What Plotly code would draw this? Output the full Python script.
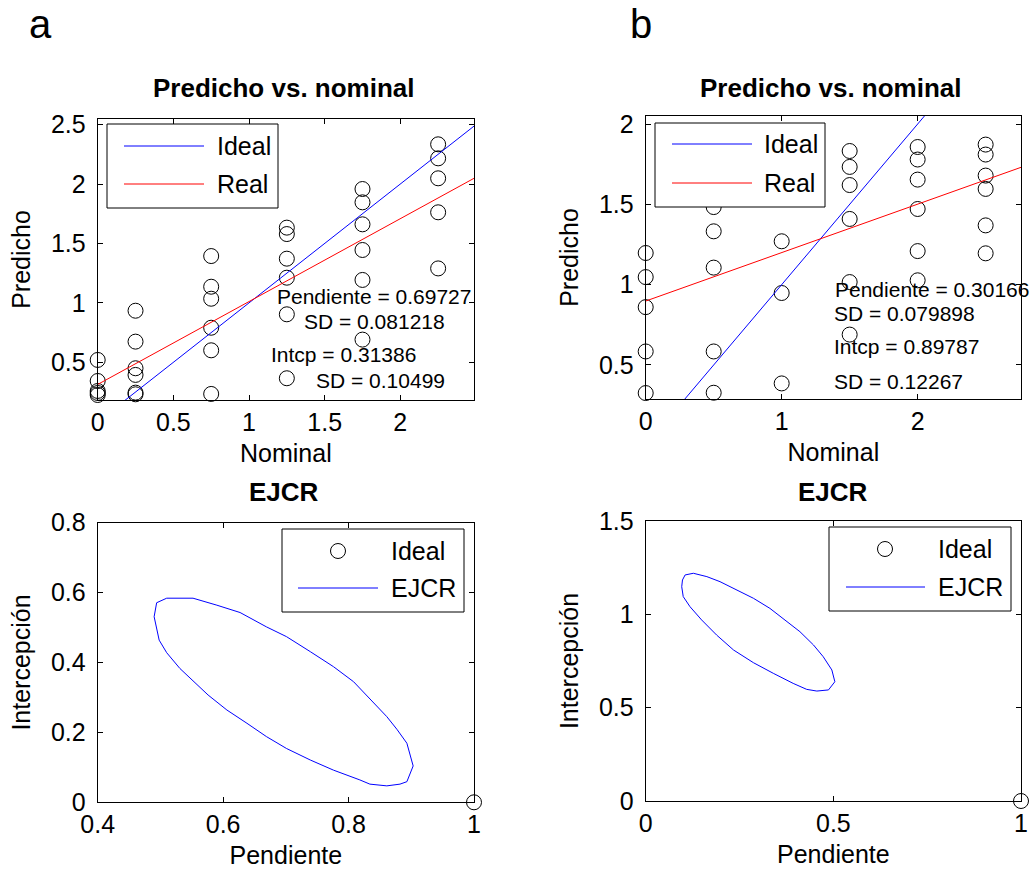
import plotly.graph_objects as go

# ---------------- data ----------------
# Panel a: Predicho vs. nominal
a_nominal = [0, 0, 0, 0, 0,
             0.25, 0.25, 0.25, 0.25, 0.25, 0.25,
             0.75, 0.75, 0.75, 0.75, 0.75, 0.75,
             1.25, 1.25, 1.25, 1.25, 1.25, 1.25,
             1.75, 1.75, 1.75, 1.75, 1.75, 1.75,
             2.25, 2.25, 2.25, 2.25, 2.25]
a_predicho = [0.52, 0.343, 0.259, 0.242, 0.225,
              0.934, 0.674, 0.45, 0.394, 0.245, 0.231,
              1.394, 1.136, 1.035, 0.791, 0.601, 0.234,
              1.633, 1.579, 1.372, 1.212, 0.904, 0.366,
              1.958, 1.846, 1.661, 1.445, 1.193, 0.691,
              2.334, 2.216, 2.048, 1.762, 1.29]
a_slope = 0.69727
a_slope_sd = 0.081218
a_intercept = 0.31386
a_intercept_sd = 0.10499

# Panel b: Predicho vs. nominal
b_nominal = [0, 0, 0, 0, 0,
             0.5, 0.5, 0.5, 0.5, 0.5,
             1, 1, 1,
             1.5, 1.5, 1.5, 1.5, 1.5, 1.5,
             2, 2, 2, 2, 2, 2,
             2.5, 2.5, 2.5, 2.5, 2.5, 2.5]
b_predicho = [1.197, 1.047, 0.86, 0.584, 0.325,
              1.483, 1.332, 1.106, 0.584, 0.327,
              1.27, 0.948, 0.385,
              1.832, 1.733, 1.62, 1.409, 1.016, 0.689,
              1.857, 1.779, 1.654, 1.471, 1.209, 1.027,
              1.872, 1.81, 1.679, 1.596, 1.369, 1.195]
b_slope = 0.30166
b_slope_sd = 0.079898
b_intercept = 0.89787
b_intercept_sd = 0.12267

ideal_slope = 1.0
ideal_intercept = 0.0

# EJCR contours (pendiente, intercepcion)
a_ejcr_pend = [0.510, 0.552, 0.590, 0.627, 0.669, 0.701, 0.739, 0.776, 0.808,
               0.834, 0.861, 0.877, 0.893, 0.903, 0.893, 0.882, 0.861, 0.834,
               0.818, 0.776, 0.739, 0.701, 0.669, 0.638, 0.606, 0.576, 0.553,
               0.531, 0.510, 0.498, 0.490, 0.494, 0.510]
a_ejcr_intc = [0.584, 0.584, 0.564, 0.543, 0.502, 0.474, 0.431, 0.388, 0.345,
               0.297, 0.245, 0.209, 0.169, 0.104, 0.059, 0.052, 0.047, 0.052,
               0.064, 0.092, 0.121, 0.154, 0.188, 0.226, 0.264, 0.307, 0.345,
               0.383, 0.428, 0.464, 0.531, 0.571, 0.584]
b_ejcr_pend = [0.127, 0.163, 0.198, 0.242, 0.287, 0.331, 0.376, 0.411, 0.447,
               0.473, 0.496, 0.504, 0.487, 0.456, 0.429, 0.393, 0.340, 0.287,
               0.234, 0.189, 0.149, 0.118, 0.100, 0.096, 0.098, 0.105, 0.127]
b_ejcr_intc = [1.220, 1.202, 1.175, 1.130, 1.086, 1.032, 0.961, 0.907, 0.836,
               0.773, 0.702, 0.639, 0.595, 0.589, 0.598, 0.630, 0.684, 0.741,
               0.809, 0.889, 0.970, 1.041, 1.095, 1.148, 1.184, 1.211, 1.220]
ideal_point = (1, 0)

# tick labels
a_xticks = [0, 0.5, 1, 1.5, 2]
a_yticks = [0.5, 1, 1.5, 2, 2.5]
b_xticks = [0, 1, 2]
b_yticks = [0.5, 1, 1.5, 2]
c_xticks = [0.4, 0.6, 0.8, 1]
c_yticks = [0, 0.2, 0.4, 0.6, 0.8]
d_xticks = [0, 0.5, 1]
d_yticks = [0, 0.5, 1, 1.5]

# ---------------- layout helpers ----------------
W, H = 1032, 870
FONT = "Liberation Sans, Arial, sans-serif"


def px(x):
    return x / W


def py(y):
    return 1 - y / H


def fmt(v):
    return ("%g" % v)


ranges = {
    "a": ([0, 2.487], [0.183, 2.547]),
    "b": ([0, 2.76], [0.288, 2.05]),
    "c": ([0.4, 1.0], [0, 0.8]),
    "d": ([0, 1.0], [0, 1.5]),
}

fig = go.Figure()

circle_marker = dict(symbol="circle-open", size=15, color="black",
                     line=dict(width=1, color="black"))


def line_pts(rng, slope, intercept):
    xs = [rng[0], rng[1]]
    return xs, [slope * v + intercept for v in xs]


# Panel a
fig.add_trace(go.Scatter(x=a_nominal, y=a_predicho, mode="markers",
                         marker=circle_marker, cliponaxis=False,
                         xaxis="x", yaxis="y", showlegend=False))
xs, ys = line_pts(ranges["a"][0], ideal_slope, ideal_intercept)
fig.add_trace(go.Scatter(x=xs, y=ys, mode="lines", line=dict(color="#0000ff", width=1),
                         xaxis="x", yaxis="y", name="Ideal", showlegend=False))
xs, ys = line_pts(ranges["a"][0], a_slope, a_intercept)
fig.add_trace(go.Scatter(x=xs, y=ys, mode="lines", line=dict(color="#ff0000", width=1),
                         xaxis="x", yaxis="y", name="Real", showlegend=False))

# Panel b
fig.add_trace(go.Scatter(x=b_nominal, y=b_predicho, mode="markers",
                         marker=circle_marker, cliponaxis=False,
                         xaxis="x2", yaxis="y2", showlegend=False))
xs, ys = line_pts(ranges["b"][0], ideal_slope, ideal_intercept)
fig.add_trace(go.Scatter(x=xs, y=ys, mode="lines", line=dict(color="#0000ff", width=1),
                         xaxis="x2", yaxis="y2", name="Ideal", showlegend=False))
xs, ys = line_pts(ranges["b"][0], b_slope, b_intercept)
fig.add_trace(go.Scatter(x=xs, y=ys, mode="lines", line=dict(color="#ff0000", width=1),
                         xaxis="x2", yaxis="y2", name="Real", showlegend=False))

# Panel c (EJCR a)
fig.add_trace(go.Scatter(x=a_ejcr_pend, y=a_ejcr_intc, mode="lines",
                         line=dict(color="#0000ff", width=1),
                         xaxis="x3", yaxis="y3", name="EJCR", showlegend=False))
fig.add_trace(go.Scatter(x=[ideal_point[0]], y=[ideal_point[1]], mode="markers",
                         marker=circle_marker, cliponaxis=False,
                         xaxis="x3", yaxis="y3", name="Ideal", showlegend=False))
# Panel d (EJCR b)
fig.add_trace(go.Scatter(x=b_ejcr_pend, y=b_ejcr_intc, mode="lines",
                         line=dict(color="#0000ff", width=1),
                         xaxis="x4", yaxis="y4", name="EJCR", showlegend=False))
fig.add_trace(go.Scatter(x=[ideal_point[0]], y=[ideal_point[1]], mode="markers",
                         marker=circle_marker, cliponaxis=False,
                         xaxis="x4", yaxis="y4", name="Ideal", showlegend=False))


def axis(domain, rng, ticks, title, anchor, is_y=False, standoff=10):
    return dict(
        domain=domain, range=rng, anchor=anchor,
        tickmode="array", tickvals=ticks, ticktext=[fmt(t) for t in ticks],
        showline=True, linecolor="black", linewidth=1, mirror="ticks",
        ticks="inside", ticklen=5, tickcolor="black", tickwidth=1,
        showgrid=False, zeroline=False,
        tickfont=dict(family=FONT, size=25, color="black"),
        ticklabelstandoff=6 if is_y else 0,
        title=dict(text=title, font=dict(family=FONT, size=25, color="black"),
                   standoff=standoff),
        automargin=False, fixedrange=True,
    )


dom_x_left = [px(97.7), px(474)]
dom_x_right = [px(645.7), px(1021)]

fig.update_layout(
    width=W, height=H,
    margin=dict(l=0, r=0, t=0, b=0),
    paper_bgcolor="white", plot_bgcolor="white",
    font=dict(family=FONT, color="black"),
    showlegend=False,
    xaxis=axis(dom_x_left, ranges["a"][0], a_xticks, "Nominal", "y", standoff=9),
    yaxis=axis([py(400), py(119)], ranges["a"][1], a_yticks, "Predicho", "x", True, standoff=13),
    xaxis2=axis(dom_x_right, ranges["b"][0], b_xticks, "Nominal", "y2", standoff=9),
    yaxis2=axis([py(399), py(116)], ranges["b"][1], b_yticks, "Predicho", "x2", True, standoff=13),
    xaxis3=axis(dom_x_left, ranges["c"][0], c_xticks, "Pendiente", "y3", standoff=9),
    yaxis3=axis([py(802.3), py(522.7)], ranges["c"][1], c_yticks, "Intercepción", "x3", True, standoff=13),
    xaxis4=axis(dom_x_right, ranges["d"][0], d_xticks, "Pendiente", "y4", standoff=9),
    yaxis4=axis([py(801), py(521)], ranges["d"][1], d_yticks, "Intercepción", "x4", True, standoff=13),
)

annotations = []
shapes = []

# Panel letters
annotations.append(dict(text="a", x=px(40), y=py(24), xref="paper", yref="paper",
                        xanchor="center", yanchor="middle",
                        showarrow=False, font=dict(family=FONT, size=40, color="black")))
annotations.append(dict(text="b", x=px(641), y=py(24), xref="paper", yref="paper",
                        xanchor="center", yanchor="middle",
                        showarrow=False, font=dict(family=FONT, size=40, color="black")))

# Titles
for cx, cy, t in [(284, 88, "Predicho vs. nominal"), (831, 88, "Predicho vs. nominal"),
                  (284, 492, "EJCR"), (833, 492, "EJCR")]:
    annotations.append(dict(text="<b>%s</b>" % t, x=px(cx), y=py(cy), xref="paper", yref="paper",
                            xanchor="center", yanchor="middle",
                            showarrow=False, font=dict(family=FONT, size=26, color="black")))

# Statistics text
stat_font = dict(family=FONT, size=21, color="black")
stats_a = [("Pendiente = %s" % fmt(a_slope), 1.172, 1.050),
           ("SD = %s" % fmt(a_slope_sd), 1.350, 0.840),
           ("Intcp = %s" % fmt(a_intercept), 1.132, 0.570),
           ("SD = %s" % fmt(a_intercept_sd), 1.430, 0.351)]
for t, x, y in stats_a:
    annotations.append(dict(text=t, x=x, y=y, xref="x", yref="y", xanchor="left",
                            yanchor="middle", showarrow=False, font=stat_font))
stats_b = [("Pendiente = %s" % fmt(b_slope), 1.377, 0.971),
           ("SD = %s" % fmt(b_slope_sd), 1.370, 0.822),
           ("Intcp = %s" % fmt(b_intercept), 1.370, 0.617),
           ("SD = %s" % fmt(b_intercept_sd), 1.370, 0.398)]
for t, x, y in stats_b:
    annotations.append(dict(text=t, x=x, y=y, xref="x2", yref="y2", xanchor="left",
                            yanchor="middle", showarrow=False, font=stat_font))

# Legends (MATLAB style boxes)
leg_font = dict(family=FONT, size=25, color="black")


def legend_box(x0, y0, x1, y1):
    shapes.append(dict(type="rect", xref="paper", yref="paper",
                       x0=px(x0), x1=px(x1), y0=py(y0), y1=py(y1),
                       line=dict(color="black", width=1), fillcolor="white", layer="above"))


def legend_line(x0, x1, y, color, text, tx):
    shapes.append(dict(type="line", xref="paper", yref="paper",
                       x0=px(x0), x1=px(x1), y0=py(y), y1=py(y),
                       line=dict(color=color, width=1), layer="above"))
    annotations.append(dict(text=text, x=px(tx), y=py(y), xref="paper", yref="paper",
                            xanchor="left", yanchor="middle", showarrow=False, font=leg_font))


def legend_circle(cx, cy, text, tx):
    shapes.append(dict(type="circle", xref="paper", yref="paper",
                       xsizemode="pixel", ysizemode="pixel",
                       xanchor=px(cx), yanchor=py(cy),
                       x0=-7.5, x1=7.5, y0=-7.5, y1=7.5,
                       line=dict(color="black", width=1), layer="above"))
    annotations.append(dict(text=text, x=px(tx), y=py(cy), xref="paper", yref="paper",
                            xanchor="left", yanchor="middle", showarrow=False, font=leg_font))


legend_box(107, 124, 278, 208)
legend_line(124, 204, 146, "#0000ff", "Ideal", 215)
legend_line(124, 204, 184, "#ff0000", "Real", 215)

legend_box(655, 123, 825, 207)
legend_line(672, 752, 144, "#0000ff", "Ideal", 762)
legend_line(672, 752, 183, "#ff0000", "Real", 762)

legend_box(282, 529, 464, 612)
legend_circle(338, 551, "Ideal", 389)
legend_line(298, 378, 588, "#0000ff", "EJCR", 389)

legend_box(829, 527, 1011, 611)
legend_circle(885, 549, "Ideal", 936)
legend_line(846, 925, 587, "#0000ff", "EJCR", 936)

fig.update_layout(annotations=annotations, shapes=shapes)

# remove the default page margin so the figure fills the window exactly
fig.write_html("out.html", config={"displayModeBar": False},
               post_script="document.body.style.margin='0';document.body.style.overflow='hidden';")
